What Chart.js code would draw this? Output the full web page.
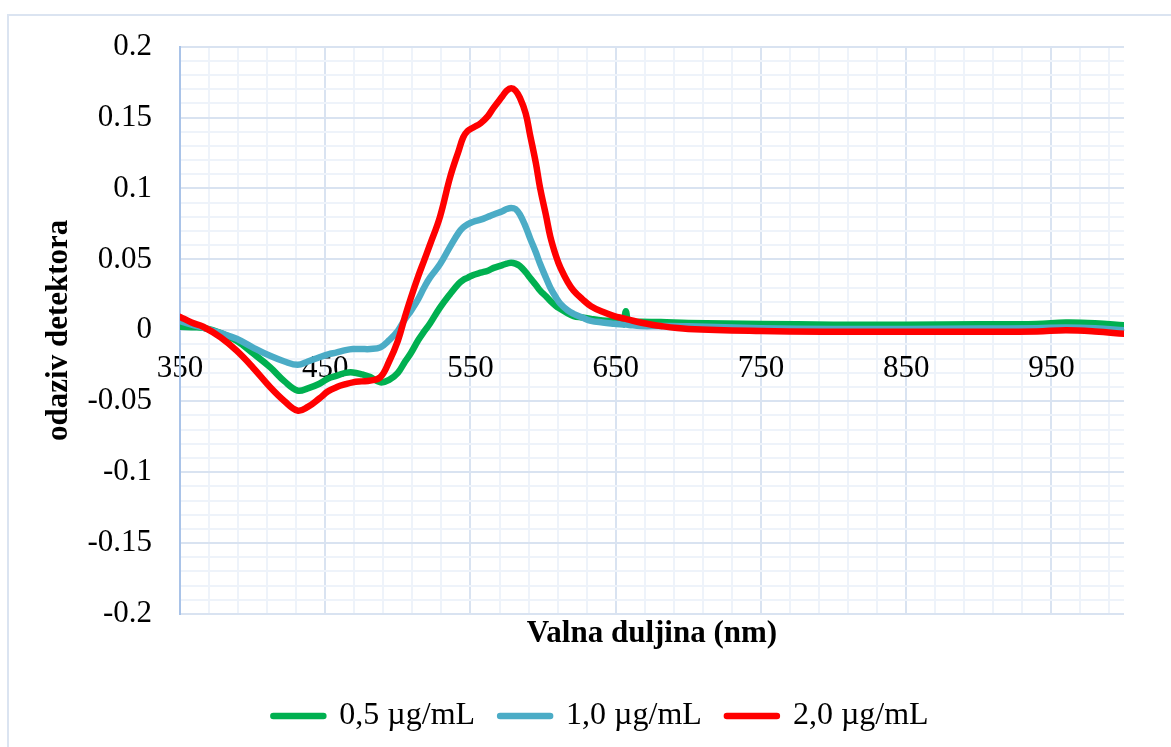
<!DOCTYPE html>
<html lang="hr">
<head>
  <meta charset="UTF-8" />
  <title>Odaziv detektora</title>
  <script src="https://cdn.jsdelivr.net/npm/chart.js@4.4.0/dist/chart.umd.min.js"></script>
  <style>
    *, *::before, *::after { box-sizing: border-box; margin: 0; padding: 0; }
    html, body { width: 1171px; height: 747px; background: #fff; overflow: hidden; }
    .frame {
      position: absolute; left: 7px; top: 14px; width: 1200px; height: 800px;
      border-left: 2px solid #dbe4f1; border-top: 2px solid #dbe4f1;
    }
    canvas { position: absolute; left: 0; top: 0; }
  </style>
</head>
<body>
<div class="frame"></div>
<canvas id="chart" width="1171" height="747"></canvas>

<script>
// wavelength (nm), shared by all three series
const wavelengths = [
  350, 358, 366, 378, 389, 400, 412, 422,
  431, 438, 446, 452, 458, 464, 469, 475,
  481, 488, 494, 500, 505, 509, 514, 518,
  522, 529, 536, 542, 545, 548, 552, 557, 562,
  566, 572, 575, 578, 581, 584, 588, 591, 595, 598,
  602, 605, 609, 612, 617, 621, 627, 633,
  641, 649, 655, 657, 659, 667, 681, 700,
  750, 800, 850, 900, 940, 960, 980, 1000,
];

const green05 = [
  0.0025, 0.0022, 0.0018, -0.002, -0.0074, -0.016, -0.026, -0.036,
  -0.0425, -0.041, -0.0377, -0.034, -0.032, -0.030, -0.0297, -0.031,
  -0.033, -0.0367, -0.035, -0.030, -0.022, -0.016, -0.007, -0.001,
  0.0046, 0.016, 0.0256, 0.033, 0.0355, 0.037, 0.039, 0.0406, 0.042,
  0.044, 0.046, 0.047, 0.0477, 0.047, 0.0453, 0.041, 0.037, 0.032, 0.028,
  0.024, 0.0207, 0.017, 0.015, 0.012, 0.010, 0.009, 0.008,
  0.007, 0.0067, 0.0065, 0.0135, 0.0065, 0.006, 0.0058, 0.0052,
  0.0045, 0.004, 0.004, 0.0042, 0.0045, 0.0055, 0.005, 0.0035,
];

const blue10 = [
  0.0065, 0.004, 0.0018, -0.002, -0.006, -0.012, -0.018, -0.022,
  -0.0243, -0.022, -0.019, -0.017, -0.0156, -0.014, -0.0132, -0.0132,
  -0.0132, -0.012, -0.007, -0.0004, 0.008, 0.0137, 0.022, 0.030,
  0.037, 0.0465, 0.059, 0.069, 0.0725, 0.0747, 0.0765, 0.078, 0.080,
  0.0817, 0.084, 0.0855, 0.0863, 0.0855, 0.0817, 0.073, 0.065, 0.055, 0.0467,
  0.037, 0.030, 0.023, 0.0186, 0.014, 0.0116, 0.009, 0.0067,
  0.0055, 0.0046, 0.004, 0.004, 0.0038, 0.003, 0.003, 0.0028,
  0.0015, 0.001, 0.001, 0.0012, 0.0015, 0.002, 0.0015, 0.0,
];

const red20 = [
  0.0095, 0.0055, 0.0025, -0.005, -0.0144, -0.026, -0.040, -0.050,
  -0.0566, -0.054, -0.048, -0.043, -0.040, -0.038, -0.0367, -0.036,
  -0.0355, -0.033, -0.022, -0.0074, 0.010, 0.023, 0.038, 0.049,
  0.060, 0.080, 0.108, 0.127, 0.136, 0.1405, 0.143, 0.146, 0.151,
  0.157, 0.165, 0.169, 0.1707, 0.169, 0.164, 0.153, 0.138, 0.118, 0.100,
  0.081, 0.066, 0.052, 0.044, 0.034, 0.028, 0.022, 0.017,
  0.013, 0.010, 0.0085, 0.008, 0.0075, 0.0055, 0.003, 0.001,
  -0.0005, -0.001, -0.001, -0.001, -0.0008, 0.0, -0.0008, -0.0025,
];

const seriesLabels = ['0,5 µg/mL', '1,0 µg/mL', '2,0 µg/mL'];
const seriesColors = ['#00b050', '#4bacc6', '#ff0000'];

// labelled ticks; gridlines fall every 20 nm and every 0.01
const xTickLabels = [350, 450, 550, 650, 750, 850, 950];
const yTickLabels = [0.2, 0.15, 0.1, 0.05, 0, -0.05, -0.1, -0.15, -0.2];

const X_MIN = 350, X_MAX = 1000, X_STEP = 20;
const Y_MIN = -0.2, Y_MAX = 0.2;

const FONT   = "'Liberation Serif', 'Times New Roman', serif";
const MAJOR  = '#d9e3f1';
const MINOR  = '#eef3fa';
const AXIS_Y = '#a9c3e8';

const points = ys => wavelengths.map((x, i) => ({ x, y: ys[i] }));
const isLabel = (list, v) => list.some(t => Math.abs(t - v) < 1e-9);

const datasets = [green05, blue10, red20].map((ys, i) => ({
  label: seriesLabels[i],
  data: points(ys),
  borderColor: seriesColors[i],
  backgroundColor: seriesColors[i],
  borderWidth: 6.5,
  borderCapStyle: 'round',
  borderJoinStyle: 'round',
  tension: 0.4,
  pointRadius: 0,
  order: 2 - i, // red on top, as in the original
}));

new Chart(document.getElementById('chart'), {
  type: 'line',
  data: { datasets },
  options: {
    responsive: false,
    animation: false,
    layout: { padding: { top: 45, left: 31, right: 0, bottom: 5 } },
    plugins: {
      legend: {
        position: 'bottom',
        reverse: true,
        labels: {
          font: { family: FONT, size: 32 }, color: '#000',
          boxWidth: 50, boxHeight: 0, padding: 25,
        },
      },
      tooltip: { enabled: false },
    },
    scales: {
      x: {
        type: 'linear', min: X_MIN, max: X_MAX,
        position: { y: 0 },
        afterBuildTicks: scale => {
          const t = [];
          for (let v = X_MIN; v < X_MAX; v += X_STEP) t.push({ value: v });
          t.push({ value: X_MAX });
          scale.ticks = t;
        },
        ticks: {
          autoSkip: false, maxRotation: 0, padding: 20,
          font: { family: FONT, size: 31 }, color: '#000',
          callback: v => isLabel(xTickLabels, v) ? String(v) : '',
        },
        grid: {
          drawTicks: false, lineWidth: 2,
          color: c => c.tick.value === X_MAX ? 'rgba(0,0,0,0)'
            : (c.tick.value - X_MIN) % 100 === 0 ? MAJOR : MINOR,
        },
        border: { color: MAJOR, width: 2 },
      },
      x2: {
        type: 'linear', min: X_MIN, max: X_MAX, position: 'bottom',
        ticks: { display: false }, grid: { display: false }, border: { display: false },
        title: {
          display: true, text: 'Valna duljina (nm)', color: '#000',
          font: { family: FONT, size: 31, weight: 'bold' },
          padding: { top: 0, bottom: 22 },
        },
        afterFit: scale => { scale.height = 61; },
      },
      y: {
        type: 'linear', min: Y_MIN, max: Y_MAX, position: 'left',
        afterBuildTicks: scale => {
          const t = [];
          for (let n = -20; n <= 20; n++) t.push({ value: n / 100 });
          scale.ticks = t;
        },
        afterFit: scale => { scale.width = 149; },
        ticks: {
          autoSkip: false, padding: 28,
          font: { family: FONT, size: 31 }, color: '#000',
          callback: v => isLabel(yTickLabels, v) ? String(Math.round(v * 100) / 100) : '',
        },
        grid: {
          drawTicks: false, lineWidth: 2,
          color: c => Math.round(c.tick.value * 100) % 5 === 0 ? MAJOR : MINOR,
        },
        border: { color: AXIS_Y, width: 2 },
        title: {
          display: true, text: 'odaziv detektora', color: '#000',
          font: { family: FONT, size: 31, weight: 'bold' },
          padding: { top: 9, bottom: 0 },
        },
      },
      y2: {
        type: 'linear', position: 'right',
        ticks: { display: false }, grid: { display: false }, border: { display: false },
        afterFit: scale => { scale.width = 47; },
      },
    },
  },
});
</script>
</body>
</html>
